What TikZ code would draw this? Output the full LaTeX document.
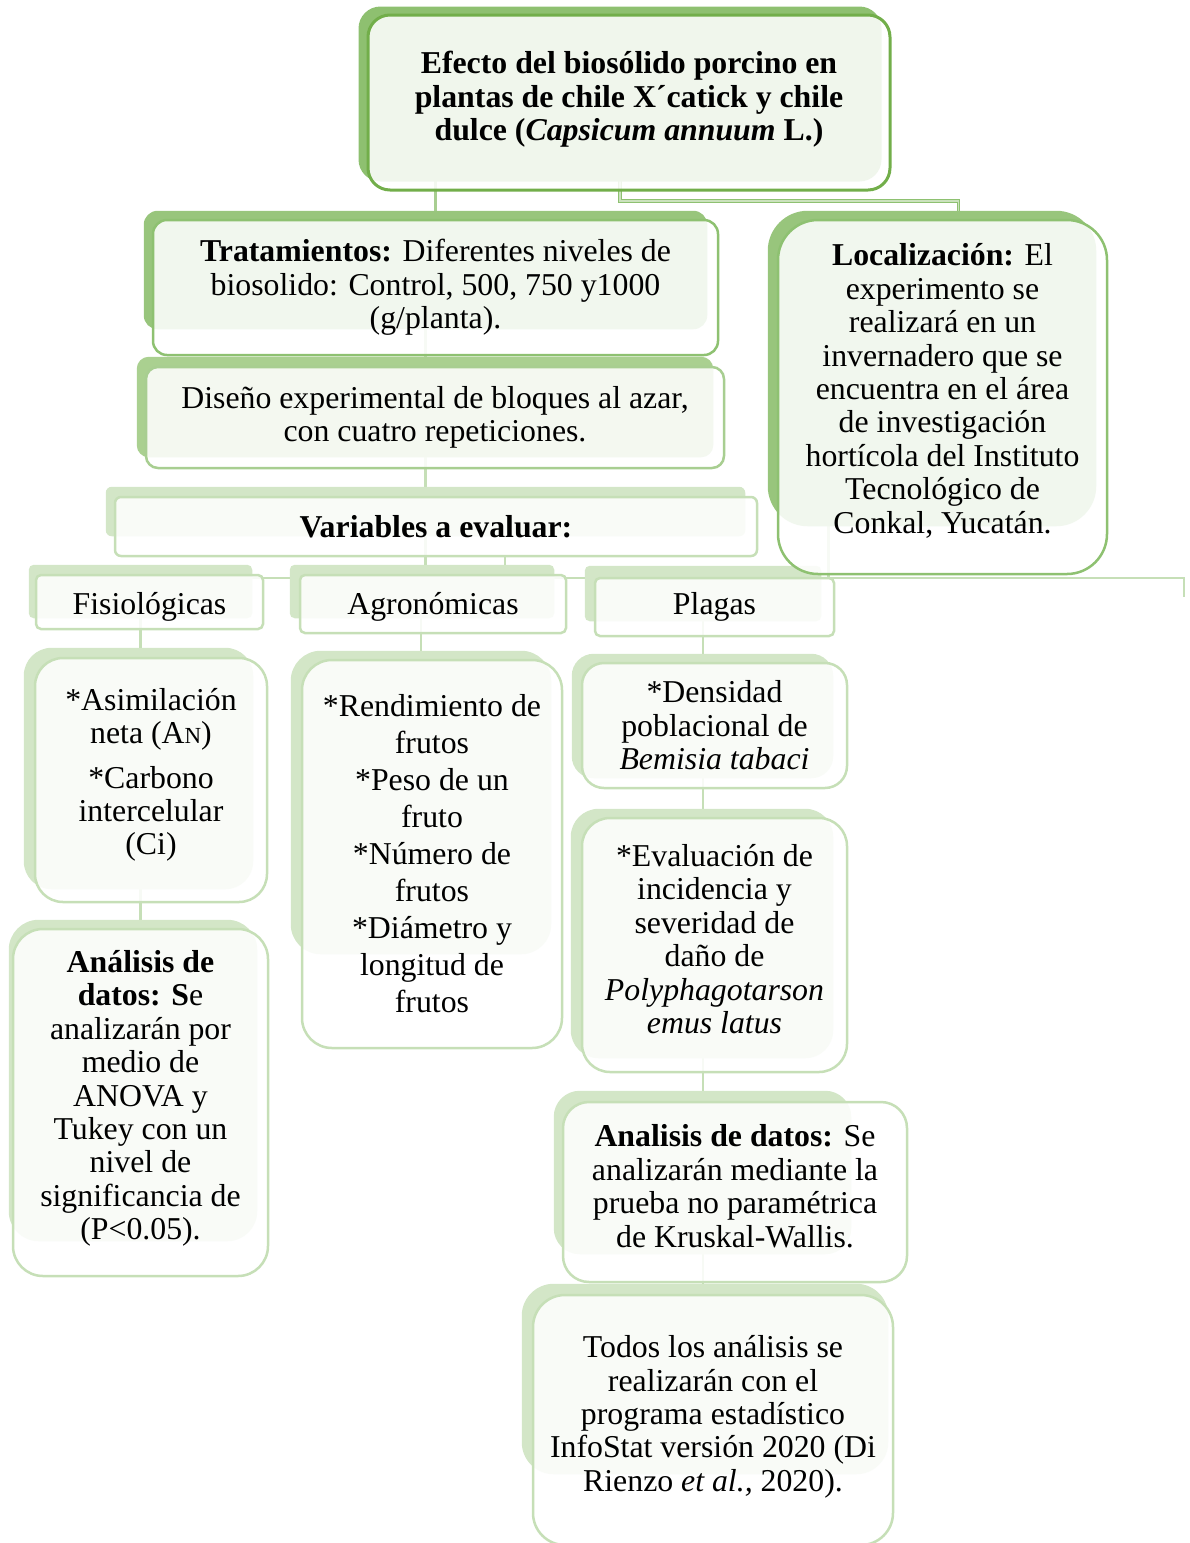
\documentclass[tikz,border=0pt]{standalone}
\usepackage{fontspec}
\setmainfont{Liberation Serif}
\usetikzlibrary{calc}
\definecolor{gTop}{HTML}{72AE4A}
\definecolor{gMid}{HTML}{8EC171}
\definecolor{gSoft}{HTML}{A8CE91}
\definecolor{gPale}{HTML}{C6DFB7}
\definecolor{bTop}{HTML}{8EC070}
\definecolor{bMid}{HTML}{98C57C}
\definecolor{bSoft}{HTML}{AAD090}
\definecolor{bPale}{HTML}{D3E6C7}
\pgfdeclarelayer{wires}
\pgfdeclarelayer{shade}
\pgfsetlayers{wires,shade,main}
\newcommand{\bodyfont}{\fontsize{31.8}{33.4}\selectfont}

\begin{document}
\begin{tikzpicture}[x=1pt, y=1pt,
    box/.style={draw=gPale, line width=2.5pt, fill=white, fill opacity=0.87, text opacity=1,
      align=center, inner sep=0pt, font=\bodyfont},
    wire/.style={gPale, line width=2.5pt},
    topwire/.style={gMid, line width=1pt, double=gSoft!60, double distance=1.5pt}]
  \useasboundingbox (0,0) rectangle (1190,-1543);
  \clip (0,0) rectangle (1190,-1543);
  % top
  \node[box, draw=gTop, line width=3pt, rounded corners=22, minimum width=522, minimum height=175,
    font=\bodyfont\bfseries, text depth=13pt] (title) at (629,-102.5)
    {Efecto del biosólido porcino en\\ plantas de chile X´catick y chile\\ dulce (\textit{Capsicum annuum} L.)};
  % level 1
  \node[box, draw=gMid, rounded corners=14, minimum width=565, minimum height=135] (trat) at (435.5,-287.5)
    {\textbf{Tratamientos:} Diferentes niveles de\\ biosolido: Control, 500, 750 y1000\\ (g/planta).};
  \node[box, draw=gMid, rounded corners=40, minimum width=329, minimum height=354, text depth=17pt]
    (loca) at (942.5,-397)
    {\textbf{Localización:} El\\ experimento se\\ realizará en un\\ invernadero que se\\ encuentra en el área\\
     de investigación\\ hortícola del Instituto\\ Tecnológico de\\ Conkal, Yucatán.};
  \node[box, draw=gSoft, rounded corners=12, minimum width=578, minimum height=101] (diseno) at (435,-417.5)
    {Diseño experimental de bloques al azar,\\ con cuatro repeticiones.};
  \node[box, rounded corners=6, minimum width=642, minimum height=59] (vars) at (436,-526.5)
    {\textbf{Variables a evaluar:}};
  % variable groups
  \node[box, rounded corners=5, minimum width=227, minimum height=54, text height=31pt] (fisio) at (149.5,-602)
    {Fisiológicas};
  \node[box, rounded corners=5, minimum width=266, minimum height=58, text height=27pt] (agro) at (433,-604)
    {Agronómicas};
  \node[box, rounded corners=5, minimum width=239, minimum height=58] (plagas) at (714.5,-607) {Plagas};
  % details
  \node[box, rounded corners=28, minimum width=232, minimum height=244, text depth=17pt] (fisiodet) at (151,-780)
    {*Asimilación\\ neta (A{\fontsize{23}{23}\selectfont N})\\[11pt] *Carbono\\ intercelular\\ (Ci)};
  \node[box, rounded corners=30, minimum width=260, minimum height=388, font=\fontsize{31.8}{37}\selectfont]
    (agrodet) at (432,-854)
    {*Rendimiento de\\ frutos\\ *Peso de un\\ fruto\\ *Número de\\ frutos\\ *Diámetro y\\ longitud de\\ frutos};
  \node[box, rounded corners=22, minimum width=265, minimum height=125] (plagdet1) at (714.5,-725.5)
    {*Densidad\\ poblacional de\\ \textit{Bemisia tabaci}};
  \node[box, rounded corners=28, minimum width=265, minimum height=254, text depth=12pt] (plagdet2) at (714.5,-945)
    {*Evaluación de\\ incidencia y\\ severidad de\\ daño de\\ \textit{Polyphagotarson}\\ \textit{emus latus}};
  % analysis
  \node[box, rounded corners=30, minimum width=255, minimum height=347, text depth=15pt] (anaizq) at (140.5,-1102.5)
    {\textbf{Análisis de}\\ \textbf{datos: S}e\\ analizarán por\\ medio de\\ ANOVA y\\ Tukey con un\\ nivel de\\
     significancia de\\ (P<0.05).};
  \node[box, rounded corners=26, minimum width=344, minimum height=180, text depth=12pt] (anader) at (735,-1192)
    {\textbf{Analisis de datos:} Se\\ analizarán mediante la\\ prueba no paramétrica\\ de Kruskal-Wallis.};
  \node[box, rounded corners=32, minimum width=360, minimum height=250, text depth=13pt] (todos) at (713,-1420)
    {Todos los análisis se\\ realizarán con el\\ programa estadístico\\ InfoStat versión 2020 (Di\\
     Rienzo \textit{et al.,} 2020).};
  % back panels
  \begin{pgfonlayer}{shade}
    \foreach \n/\c/\r/\ax/\ay/\bx/\by in {title/bTop/22/-8/7/-10/10, trat/bMid/14/-8/8/-12/27,
        loca/bMid/40/-9/8/-12/49, diseno/bSoft/12/-8/9/-12/12, vars/bPale/6/-8/9/-13/21,
        fisio/bPale/5/-6/9/-12/12, agro/bPale/5/-9/9/-13/16, plagas/bPale/5/-9/11/-14/16,
        fisiodet/bPale/28/-10/9/-15/14, agrodet/bPale/30/-10/8/-12/95, plagdet1/bPale/22/-9/8/-15/11,
        plagdet2/bPale/28/-10/8/-15/15, anaizq/bPale/30/-3/8/-12/36, anader/bPale/26/-8/10/-57/29,
        todos/bPale/32/-10/10/-6/72}
      \fill[\c, rounded corners=\r] ($(\n.north west)+(\ax,\ay)$) rectangle ($(\n.south east)+(\bx,\by)$);
  \end{pgfonlayer}
  % connectors
  \coordinate (hub) at (505,-578);
  \coordinate (rim) at (1184,-597);
  \coordinate (sp0) at ($(title.center)+(-9,0)$);
  \coordinate (elb) at ($(loca.north)+(16,18)$);
  \coordinate (sp1) at ($(trat.center)+(-10,0)$);
  \coordinate (sp2) at ($(loca.center)+(-114,0)$);
  \coordinate (sp3) at ($(agro.center)+(-12,0)$);
  \coordinate (sp4) at ($(plagas.center)+(-11.5,0)$);
  \begin{pgfonlayer}{wires}
    \draw[wire, gSoft] (trat.north |- title.center) -- (trat.north);
    \draw[topwire] (sp0) |- (elb) -- (elb |- loca.north);
    \draw[wire] (sp1) -- (sp1 |- hub);
    \draw[wire] (vars.south -| hub) -- (hub);
    \draw[wire] (fisio.center |- hub) -- (rim |- hub) -- (rim);
    \draw[wire] (sp2) -- (sp2 |- hub);
    \draw[wire] (anaizq.center |- fisio.center) -- (anaizq.center);
    \draw[wire] (sp3) -- (sp3 |- agrodet.center);
    \draw[wire] (sp4) -- (sp4 |- todos.center);
  \end{pgfonlayer}
\end{tikzpicture}
\end{document}
